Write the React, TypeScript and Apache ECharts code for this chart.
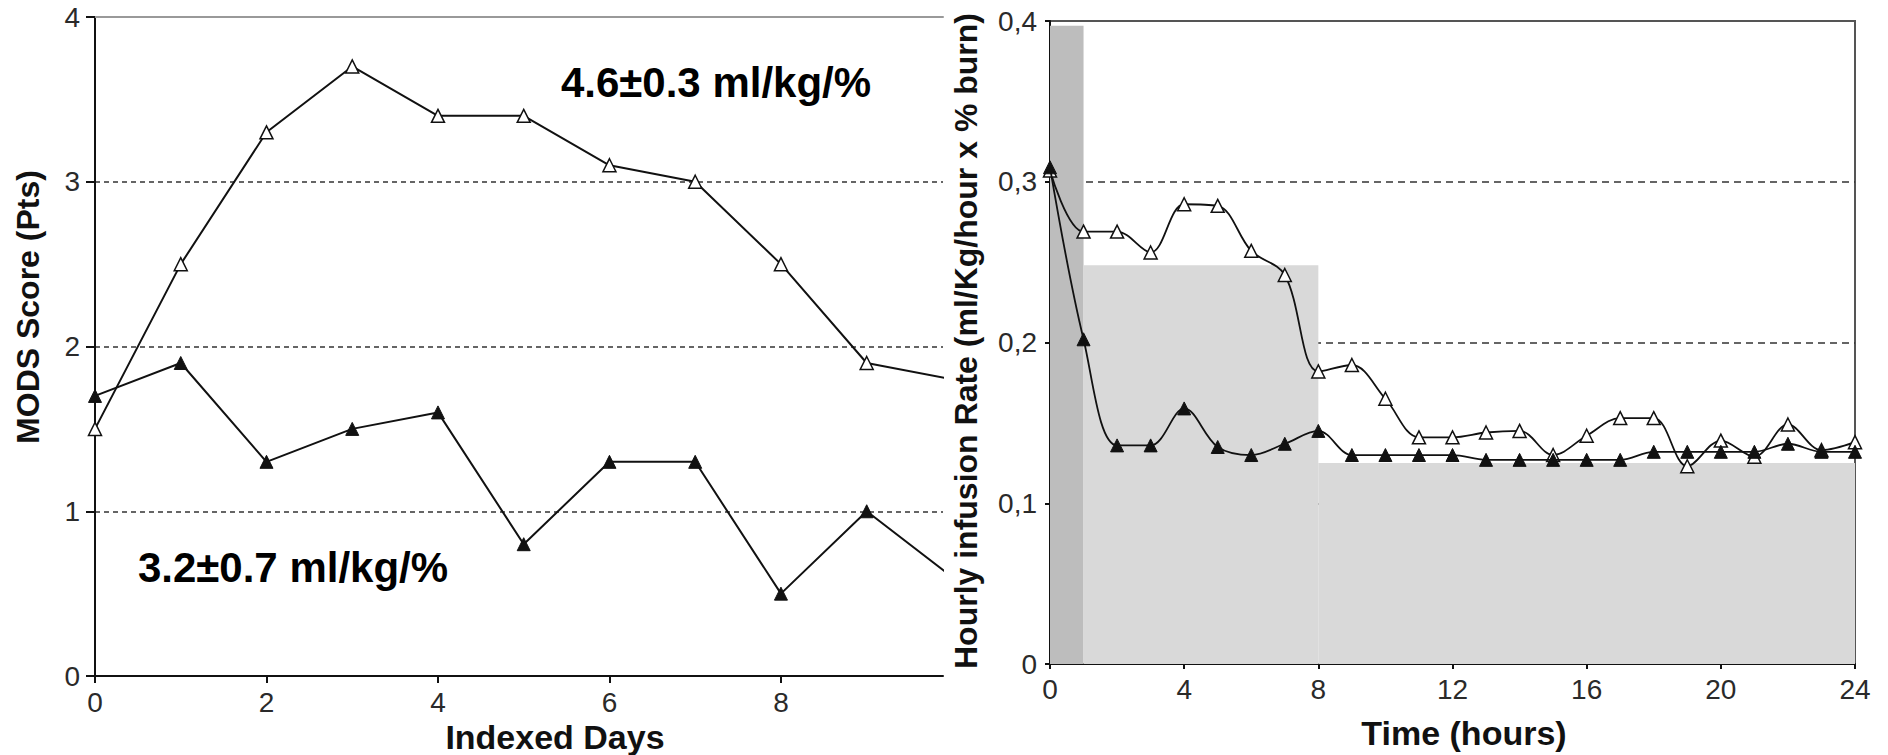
import React, { useEffect, useRef } from "react";
import * as echarts from "echarts";

// ---- Left panel: MODS score by indexed day ----
const days = [0, 1, 2, 3, 4, 5, 6, 7, 8, 9, 10];
const modsHighVolume = [1.5, 2.5, 3.3, 3.7, 3.4, 3.4, 3.1, 3.0, 2.5, 1.9, 1.8];
const modsLowVolume = [1.7, 1.9, 1.3, 1.5, 1.6, 0.8, 1.3, 1.3, 0.5, 1.0, 0.6];
const dayTickLabels = [0, 2, 4, 6, 8];
const highVolumeNote = "4.6±0.3 ml/kg/%";
const lowVolumeNote = "3.2±0.7 ml/kg/%";

// ---- Right panel: hourly infusion rate ----
const hours = [0, 1, 2, 3, 4, 5, 6, 7, 8, 9, 10, 11, 12, 13, 14, 15, 16, 17, 18, 19, 20, 21, 22, 23, 24];
const rateOpen = [0.307, 0.269, 0.269, 0.256, 0.286, 0.285, 0.257, 0.242, 0.182, 0.186, 0.165, 0.141, 0.141, 0.144, 0.145, 0.130, 0.142, 0.153, 0.153, 0.123, 0.139, 0.129, 0.149, 0.133, 0.138];
const rateFilled = [0.309, 0.202, 0.136, 0.136, 0.159, 0.135, 0.130, 0.137, 0.145, 0.130, 0.130, 0.130, 0.130, 0.127, 0.127, 0.127, 0.127, 0.127, 0.132, 0.132, 0.132, 0.132, 0.137, 0.132, 0.132];
const hourTickLabels = [0, 4, 8, 12, 16, 20, 24];
// protocol bands (start hour, end hour, rate)
const bandStart = [0, 1, 8];
const bandEnd = [1, 8, 24];
const bandTop = [0.397, 0.248, 0.125];
const bandColor = ["#bdbdbd", "#d9d9d9", "#d9d9d9"];

const FONT = "'Liberation Sans', Arial, Helvetica, sans-serif";

export default function App() {
  const ref = useRef<HTMLDivElement>(null);
  useEffect(() => {
    document.body.style.margin = "0";
    if (!ref.current) return;
    const chart = echarts.init(ref.current, null, { renderer: "svg" });

    const tickLabel = { fontFamily: FONT, fontSize: 28, color: "#2a2a2a" };
    const axisLine = { show: true, lineStyle: { color: "#111", width: 2 } };

    const option: any = {
      animation: false,
      backgroundColor: "#fff",
      grid: [
        { left: 95, top: 17, width: 848, height: 659 },
        { left: 1050, top: 21, width: 805, height: 643, show: true, borderColor: "#555", borderWidth: 2, backgroundColor: "transparent" },
      ],
      xAxis: [
        {
          gridIndex: 0, type: "value", min: 0, max: 9.89,
          axisLine,
          axisTick: { show: true, length: 7, customValues: dayTickLabels, lineStyle: { color: "#111", width: 2 } },
          axisLabel: { ...tickLabel, margin: 12, customValues: dayTickLabels },
          splitLine: { show: false },
        },
        {
          gridIndex: 1, type: "value", min: 0, max: 24, interval: 4,
          axisLine,
          axisTick: { show: true, length: 5, customValues: hourTickLabels, lineStyle: { color: "#111", width: 2 } },
          axisLabel: { ...tickLabel, margin: 11, customValues: hourTickLabels },
          splitLine: { show: false },
        },
        {
          gridIndex: 0, type: "value", min: 0, max: 9.89, position: "top",
          axisLine: { show: true, lineStyle: { color: "#999", width: 2 } },
          axisTick: { show: false }, axisLabel: { show: false }, splitLine: { show: false },
        },
      ],
      yAxis: [
        {
          gridIndex: 0, type: "value", min: 0, max: 4, interval: 1,
          axisLine,
          axisTick: { show: true, length: 9, lineStyle: { color: "#111", width: 2 } },
          axisLabel: { ...tickLabel, margin: 15 },
          splitLine: { show: true, showMinLine: false, showMaxLine: false, lineStyle: { color: "#333", type: [5, 4], width: 1.5 } },
        },
        {
          gridIndex: 1, type: "value", min: 0, max: 0.4, interval: 0.1,
          axisLine,
          axisTick: { show: true, length: 5, lineStyle: { color: "#111", width: 2 } },
          axisLabel: {
            ...tickLabel, margin: 13,
            formatter: (v: number) => (v === 0 ? "0" : v.toFixed(1).replace(".", ",")),
          },
          splitLine: { show: true, showMinLine: false, showMaxLine: false, lineStyle: { color: "#333", type: [7, 5], width: 1.5 } },
        },
      ],
      series: [
        {
          type: "line", xAxisIndex: 0, yAxisIndex: 0, z: 3,
          data: days.map((d, i) => [d, modsHighVolume[i]]),
          symbol: "triangle", symbolSize: 13,
          lineStyle: { color: "#111", width: 2 },
          itemStyle: { color: "#fff", borderColor: "#111", borderWidth: 1.5 },
        },
        {
          type: "line", xAxisIndex: 0, yAxisIndex: 0, z: 3,
          data: days.map((d, i) => [d, modsLowVolume[i]]),
          symbol: "triangle", symbolSize: 13,
          lineStyle: { color: "#111", width: 2 },
          itemStyle: { color: "#111", borderColor: "#111", borderWidth: 1 },
        },
        {
          type: "line", xAxisIndex: 1, yAxisIndex: 1, z: 1, data: [],
          markArea: {
            silent: true,
            data: bandStart.map((s, i) => [
              { xAxis: s, yAxis: 0, itemStyle: { color: bandColor[i], opacity: 1 } },
              { xAxis: bandEnd[i], yAxis: bandTop[i] },
            ]),
          },
        },
        {
          type: "line", xAxisIndex: 1, yAxisIndex: 1, z: 3,
          data: hours.map((h, i) => [h, rateOpen[i]]),
          smooth: 0.35,
          symbol: "triangle", symbolSize: 13,
          lineStyle: { color: "#111", width: 1.8 },
          itemStyle: { color: "#fff", borderColor: "#111", borderWidth: 1.5 },
        },
        {
          type: "line", xAxisIndex: 1, yAxisIndex: 1, z: 4,
          data: hours.map((h, i) => [h, rateFilled[i]]),
          smooth: 0.35,
          symbol: "triangle", symbolSize: 13,
          lineStyle: { color: "#111", width: 1.8 },
          itemStyle: { color: "#111", borderColor: "#111", borderWidth: 1 },
        },
      ],
      graphic: [
        { type: "text", x: 716, y: 82, style: { text: highVolumeNote, font: `bold 42px ${FONT}`, fill: "#000", align: "center", verticalAlign: "middle" } },
        { type: "text", x: 293, y: 567, style: { text: lowVolumeNote, font: `bold 42px ${FONT}`, fill: "#000", align: "center", verticalAlign: "middle" } },
        { type: "text", x: 555, y: 737, style: { text: "Indexed Days", font: `bold 34px ${FONT}`, fill: "#111", align: "center", verticalAlign: "middle" } },
        { type: "text", x: 1464, y: 733, style: { text: "Time (hours)", font: `bold 34px ${FONT}`, fill: "#111", align: "center", verticalAlign: "middle" } },
        { type: "text", x: 28, y: 307, rotation: Math.PI / 2, style: { text: "MODS Score (Pts)", font: `bold 32px ${FONT}`, fill: "#111", align: "center", verticalAlign: "middle" } },
        { type: "text", x: 966, y: 341, rotation: Math.PI / 2, style: { text: "Hourly infusion Rate (ml/Kg/hour x % burn)", font: `bold 32px ${FONT}`, fill: "#111", align: "center", verticalAlign: "middle" } },
      ],
    };
    chart.setOption(option);
    return () => chart.dispose();
  }, []);
  return <div ref={ref} style={{ width: 1888, height: 755, position: "absolute", left: 0, top: 0 }} />;
}
